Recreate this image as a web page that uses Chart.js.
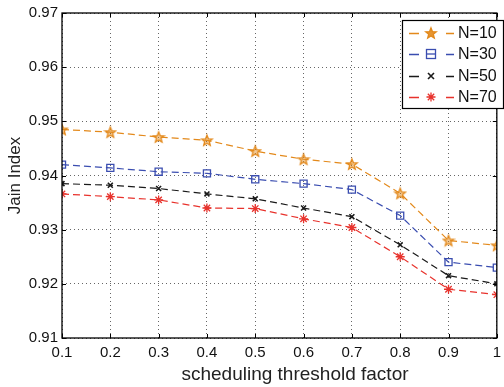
<!DOCTYPE html>
<html>
<head>
<meta charset="utf-8">
<script src="https://cdn.jsdelivr.net/npm/chart.js@4.4.0/dist/chart.umd.min.js"></script>
<style>
html,body{margin:0;padding:0;background:#fff;overflow:hidden;width:504px;height:387px;}
#wrap{width:507px;height:387px;}
</style>
</head>
<body>
<div id="wrap"><canvas id="c" width="507" height="387"></canvas></div>
<script>
const xValues = [0.1, 0.2, 0.3, 0.4, 0.5, 0.6, 0.7, 0.8, 0.9, 1.0];
const seriesNames = ['N=10', 'N=30', 'N=50', 'N=70'];
const n10 = [0.9485, 0.9480, 0.9471, 0.9465, 0.9445, 0.9430, 0.9421, 0.9367, 0.9280, 0.9271];
const n30 = [0.9420, 0.9414, 0.9407, 0.9404, 0.9393, 0.9385, 0.9374, 0.9326, 0.9240, 0.9230];
const n50 = [0.9385, 0.9382, 0.9376, 0.9366, 0.9357, 0.9340, 0.9324, 0.9272, 0.9215, 0.9200];
const n70 = [0.9366, 0.9361, 0.9355, 0.9340, 0.9339, 0.9320, 0.9304, 0.9250, 0.9190, 0.9180];
const yTicks = [0.91, 0.92, 0.93, 0.94, 0.95, 0.96, 0.97];
const xTicks = [0.1, 0.2, 0.3, 0.4, 0.5, 0.6, 0.7, 0.8, 0.9, 1];
const colors = ['#E3891B', '#3A4DB0', '#1a1a1a', '#E8322C'];

function starPath(ctx, cx, cy, R, r) {
  ctx.beginPath();
  for (let i = 0; i < 10; i++) {
    const a = -Math.PI / 2 + i * Math.PI / 5;
    const rad = i % 2 === 0 ? R : r;
    const px = cx + rad * Math.cos(a), py = cy + rad * Math.sin(a);
    if (i === 0) ctx.moveTo(px, py); else ctx.lineTo(px, py);
  }
  ctx.closePath();
}
function makeStar(color, fillAlpha) {
  const cv = document.createElement('canvas');
  cv.width = 14; cv.height = 14;
  const g = cv.getContext('2d');
  starPath(g, 7, 7.5, 5.6, 2.4);
  g.fillStyle = 'rgba(227,137,27,' + fillAlpha + ')';
  g.fill();
  g.strokeStyle = color; g.lineWidth = 1.3;
  g.stroke();
  return cv;
}
const starImg = makeStar(colors[0], 0.45);
const starLegend = makeStar(colors[0], 0.9);

const pointStyles = [starImg, 'rect', 'crossRot', 'star'];
const radii = [6, 5, 3.5, 4.5];
const allData = [n10, n30, n50, n70];

const datasets = allData.map((arr, i) => ({
  label: seriesNames[i],
  data: arr.map((v, k) => ({x: xValues[k], y: v})),
  borderColor: colors[i],
  backgroundColor: 'rgba(0,0,0,0)',
  borderWidth: 1.2,
  borderDash: [7, 4],
  pointStyle: pointStyles[i],
  pointRadius: radii[i],
  pointBorderColor: colors[i],
  pointBorderWidth: i === 2 ? 1.6 : 1.3,
  pointBackgroundColor: 'rgba(0,0,0,0)',
  tension: 0,
  fill: false
}));

function drawMarker(ctx, i, x, y) {
  ctx.save();
  ctx.setLineDash([]);
  ctx.strokeStyle = colors[i];
  ctx.lineWidth = 1.3;
  if (i === 0) {
    ctx.drawImage(starLegend, x - 7, y - 7);
  } else if (i === 1) {
    ctx.strokeRect(x - 4.5, y - 4.5, 9, 9);
    ctx.beginPath(); ctx.moveTo(x - 4.5, y); ctx.lineTo(x + 4.5, y); ctx.stroke();
  } else if (i === 2) {
    ctx.lineWidth = 1.6;
    ctx.beginPath();
    ctx.moveTo(x - 3, y - 3); ctx.lineTo(x + 3, y + 3);
    ctx.moveTo(x - 3, y + 3); ctx.lineTo(x + 3, y - 3);
    ctx.stroke();
  } else {
    ctx.beginPath();
    for (let k = 0; k < 4; k++) {
      const a = k * Math.PI / 4;
      ctx.moveTo(x - 4.5 * Math.cos(a), y - 4.5 * Math.sin(a));
      ctx.lineTo(x + 4.5 * Math.cos(a), y + 4.5 * Math.sin(a));
    }
    ctx.stroke();
  }
  ctx.restore();
}

const framePlugin = {
  id: 'frame',
  afterDatasetsDraw(chart) {
    const {ctx, chartArea: a} = chart;
    ctx.save();
    ctx.strokeStyle = '#000';
    ctx.lineWidth = 1.3;
    ctx.setLineDash([]);
    ctx.strokeRect(a.left, a.top, a.right - a.left, a.bottom - a.top);
    const xs = chart.scales.x, ys = chart.scales.y;
    ctx.lineWidth = 1;
    ctx.beginPath();
    xTicks.forEach(v => {
      const px = Math.round(xs.getPixelForValue(v)) + 0.5;
      ctx.moveTo(px, a.bottom); ctx.lineTo(px, a.bottom - 4);
      ctx.moveTo(px, a.top); ctx.lineTo(px, a.top + 4);
    });
    yTicks.forEach(v => {
      const py = Math.round(ys.getPixelForValue(v)) + 0.5;
      ctx.moveTo(a.left, py); ctx.lineTo(a.left + 4, py);
      ctx.moveTo(a.right, py); ctx.lineTo(a.right - 4, py);
    });
    ctx.stroke();

    // legend
    const bx = 402, by = 20, bw = 101, bh = 88;
    ctx.fillStyle = '#fff';
    ctx.fillRect(bx, by, bw, bh);
    ctx.lineWidth = 1.2;
    ctx.strokeStyle = '#000';
    ctx.strokeRect(bx + 0.5, by + 0.5, bw, bh);
    const rows = [33, 54, 76, 97];
    ctx.font = '16px "Liberation Sans", Arial, sans-serif';
    ctx.textBaseline = 'middle';
    ctx.textAlign = 'left';
    seriesNames.forEach((name, i) => {
      const y = rows[i];
      ctx.strokeStyle = colors[i];
      ctx.lineWidth = 1.4;
      ctx.beginPath();
      ctx.moveTo(409, y + 0.5); ctx.lineTo(419, y + 0.5);
      ctx.moveTo(446, y + 0.5); ctx.lineTo(454, y + 0.5);
      ctx.stroke();
      drawMarker(ctx, i, 431, y);
      ctx.fillStyle = '#111';
      ctx.fillText(name, 458, y + 1);
    });

    // x-axis title
    ctx.font = '19px "Liberation Sans", Arial, sans-serif';
    ctx.textAlign = 'center';
    ctx.textBaseline = 'middle';
    ctx.fillStyle = '#222';
    ctx.fillText('scheduling threshold factor', 295, 375);
    ctx.restore();
  }
};

new Chart(document.getElementById('c'), {
  type: 'line',
  data: {datasets},
  plugins: [framePlugin],
  options: {
    responsive: false,
    animation: false,
    devicePixelRatio: 1,
    layout: {padding: {left: 0, top: 10, right: 0, bottom: 0}},
    plugins: {legend: {display: false}, tooltip: {enabled: false}},
    scales: {
      x: {
        type: 'linear',
        min: 0.1, max: 1,
        afterBuildTicks(s) { s.ticks = xTicks.map(v => ({value: v})); },
        afterFit(s) { s.height = 49; },
        ticks: {
          color: '#111',
          font: {family: '"Liberation Sans", Arial, sans-serif', size: 15},
          padding: 6,
          maxRotation: 0,
          callback: v => String(Math.round(v * 10) / 10)
        },
        grid: {color: '#666', lineWidth: 1, tickLength: 0, drawTicks: false},
        border: {display: false, dash: [1, 3]},
        title: {display: false}
      },
      y: {
        type: 'linear',
        min: 0.91, max: 0.97,
        afterBuildTicks(s) { s.ticks = yTicks.map(v => ({value: v})); },
        afterFit(s) { s.width = 62; },
        ticks: {
          color: '#111',
          font: {family: '"Liberation Sans", Arial, sans-serif', size: 15},
          padding: 4,
          callback: v => v.toFixed(2)
        },
        grid: {color: '#666', lineWidth: 1, drawTicks: false},
        border: {display: false, dash: [1, 3]},
        title: {
          display: true,
          text: 'Jain Index',
          color: '#222',
          font: {family: '"Liberation Sans", Arial, sans-serif', size: 17},
          padding: {top: 5, bottom: 0}
        }
      }
    }
  }
});
</script>
</body>
</html>
